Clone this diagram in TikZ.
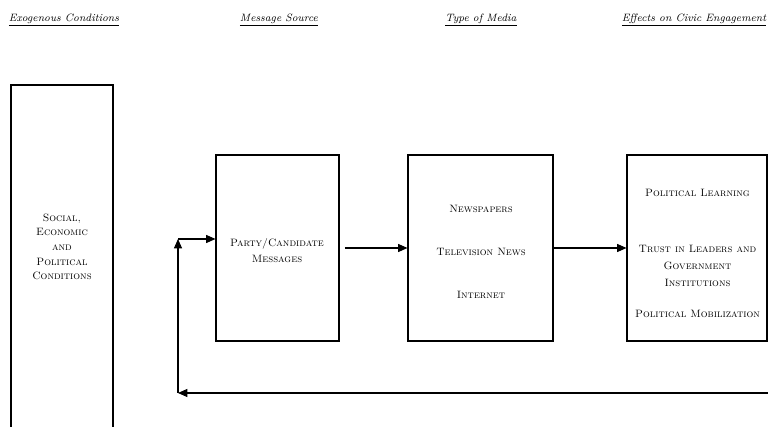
\documentclass[tikz,border=0pt]{standalone}
\usetikzlibrary{arrows.meta}

\begin{document}
\begin{tikzpicture}[x=0.75pt, y=-0.75pt, >={Triangle[length=7pt,width=6pt]}, line width=0.8pt,
    heading/.style={font=\footnotesize\itshape, inner sep=1pt},
    stagebox/.style={draw, minimum height=139.5pt},
    label/.style={align=center, font=\footnotesize, inner sep=1pt}]
    \useasboundingbox (0,0) rectangle (768,427);

    \node[heading] (hexo) at (64,20) {\underline{Exogenous Conditions}};
    \node[heading] (hsrc) at (279,20) {\underline{Message Source}};
    \node[heading] (hmed) at (481,20) {\underline{Type of Media}};
    \node[heading] (heff) at (694,20) {\underline{Effects on Civic Engagement}};

    \draw (11,427) -- (11,85) -- (113,85) -- (113,427);
    \node[label] (exo) at (62,247) {\textsc{Social,}\\[1.5pt] \textsc{Economic}\\[1.5pt] \textsc{and}\\[1.5pt]
        \textsc{Political}\\[1.5pt] \textsc{Conditions}};

    \node[stagebox, minimum width=92.25pt] (party) at (277.5,248) {};
    \node[stagebox, minimum width=108.75pt] (media) at (480.5,248) {};
    \node[stagebox, minimum width=105pt] (effects) at (697,248) {};

    \node[label] (partytext) at (277,251) {\textsc{Party/Candidate}\\[2.5pt] \textsc{Messages}};
    \node[label] (mediatext) at (481,252) {\textsc{Newspapers}\\[22.75pt] \textsc{Television News}\\[22.75pt] \textsc{Internet}};
    \node[label] (effectstext) at (697.5,253.5) {\textsc{Political Learning}\\[32.5pt] \textsc{Trust in Leaders and}\\[3pt]
        \textsc{Government}\\[3pt] \textsc{Institutions}\\[13.75pt] \textsc{Political Mobilization}};

    \draw[->] ([xshift=4pt]party.east) -- (media.west);
    \draw[->] (media.east) -- (effects.west);

    \coordinate (loopR) at (768,393);
    \coordinate (loopL) at (178,393);
    \coordinate (loopT) at (178,239);
    \draw[->] (loopR) -- (loopL);
    \draw[->] (loopL) -- (loopT);
    \draw[->] (loopT) -- (party.west |- loopT);
\end{tikzpicture}
\end{document}
